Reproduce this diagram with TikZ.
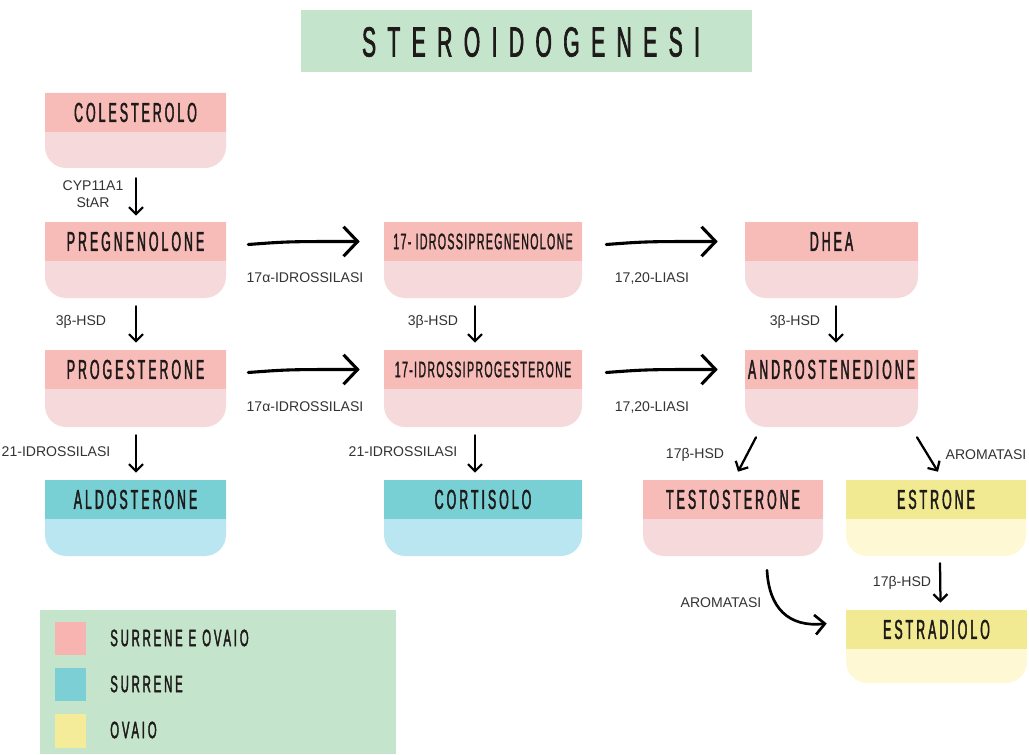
\documentclass[tikz,border=0pt]{standalone}
\usepackage{fontspec}
\setmainfont{Liberation Sans}
\newfontfamily\bebas[FakeStretch=0.45,LetterSpace=11,FakeBold=1.6]{Liberation Sans}
\newfontfamily\bebastight[FakeStretch=0.47,LetterSpace=6,FakeBold=1.3]{Liberation Sans}
\newfontfamily\legfont[FakeStretch=0.48,LetterSpace=12,FakeBold=1.6]{Liberation Sans}
\newfontfamily\titlefont[FakeStretch=0.5,LetterSpace=27,FakeBold=1.5]{Liberation Sans}
\usetikzlibrary{arrows.meta,calc}
\definecolor{pinkband}{HTML}{F8BCB8}
\definecolor{pinklight}{HTML}{F6DADB}
\definecolor{tealband}{HTML}{78CFD4}
\definecolor{bluelight}{HTML}{B9E6F1}
\definecolor{yelband}{HTML}{F2EA93}
\definecolor{yellight}{HTML}{FEF8D4}
\definecolor{titlegreen}{HTML}{C4E5CB}
\definecolor{labelgray}{HTML}{333333}
\definecolor{boxtext}{HTML}{1E1A1A}
\definecolor{legpink}{HTML}{F8B4B0}
\definecolor{legteal}{HTML}{7BCFD5}
\definecolor{legyel}{HTML}{F5EC9A}
% name, x1, y1, x2, y2, band, light, font, text
\newcommand\stage[9]{%
  \fill[#7] (#2,#3) [rounded corners=15pt] -- (#2,#5) -- (#4,#5) [sharp corners] -- (#4,#3) -- cycle;
  \fill[#6] (#2,#3) rectangle (#4,#3+39);
  \node[boxtxt, font=#8] (#1-t) at ({(#2+#4)/2},{#3+19.5}) {#9};
  \node[inner sep=0pt, minimum width={(#4-#2)*0.025cm}, minimum height={(#5-#3)*0.025cm}] (#1) at ({(#2+#4)/2},{(#3+#5)/2}) {};
}
\newcommand\bigtxt{\bebas\fontsize{19.5}{20}\selectfont}
\newcommand\smalltxt{\bebastight\fontsize{16}{17}\selectfont}
\begin{document}
\begin{tikzpicture}[x=0.025cm,y=-0.025cm,
  lbl/.style={font=\fontsize{10}{12}\selectfont, text=labelgray, inner sep=0pt},
  boxtxt/.style={text=boxtext, inner sep=0pt},
  legtxt/.style={font=\legfont\fontsize{16.8}{18}\selectfont, text=boxtext, inner sep=0pt, anchor=west},
  vlink/.style={-{Straight Barb[length=5pt,width=10pt]}, line width=1.6pt, line cap=round},
  hlink/.style={-{Straight Barb[length=10pt,width=21pt]}, line width=2.2pt, line cap=round},
  mlink/.style={-{Straight Barb[length=7pt,width=14pt]}, line width=1.9pt, line cap=round},
]
\useasboundingbox (0,0) rectangle (1029,754);

% title
\fill[titlegreen] (301,10) rectangle (752,72);
\node[inner sep=0pt, font=\titlefont\fontsize{30}{32}\selectfont, text=boxtext] (title) at (531,42) {STEROIDOGENESI};

% boxes
\stage{col}{45}{93}{226}{168}{pinkband}{pinklight}{\bigtxt}{COLESTEROLO}
\stage{preg}{45}{222}{226}{298}{pinkband}{pinklight}{\bigtxt}{PREGNENOLONE}
\stage{ohpreg}{384}{222}{582}{298}{pinkband}{pinklight}{\smalltxt}{17- IDROSSIPREGNENOLONE}
\stage{dhea}{745}{222}{918}{298}{pinkband}{pinklight}{\bigtxt}{DHEA}
\stage{prog}{45}{350}{226}{427}{pinkband}{pinklight}{\bigtxt}{PROGESTERONE}
\stage{ohprog}{384}{350}{582}{427}{pinkband}{pinklight}{\smalltxt}{17-IDROSSIPROGESTERONE}
\stage{andro}{745}{350}{918}{427}{pinkband}{pinklight}{\bigtxt}{ANDROSTENEDIONE}
\stage{aldo}{45}{480}{226}{556}{tealband}{bluelight}{\bigtxt}{ALDOSTERONE}
\stage{cort}{384}{480}{582}{556}{tealband}{bluelight}{\bigtxt}{CORTISOLO}
\stage{testo}{643}{480}{823}{556}{pinkband}{pinklight}{\bigtxt}{TESTOSTERONE}
\stage{estrone}{846}{480}{1026}{556}{yelband}{yellight}{\bigtxt}{ESTRONE}
\stage{estradiolo}{846}{610}{1027}{683}{yelband}{yellight}{\bigtxt}{ESTRADIOLO}

% vertical arrows
\draw[vlink] ($(col.south)+(0.5,10)$) -- ($(preg.north)+(0.5,-6)$);
\draw[vlink] ($(preg.south)+(0.5,8)$) -- ($(prog.north)+(0.5,-7)$);
\draw[vlink] ($(prog.south)+(0.5,8)$) -- ($(aldo.north)+(0.5,-7)$);
\draw[vlink] ($(ohpreg.south)+(-8,8)$) -- ($(ohprog.north)+(-8,-7)$);
\draw[vlink] ($(ohprog.south)+(-8,8)$) -- ($(cort.north)+(-8,-7)$);
\draw[vlink] ($(dhea.south)+(4.5,8)$) -- ($(andro.north)+(4.5,-7)$);

% horizontal arrows (slightly hand-drawn curve)
\draw[hlink] ($(preg.east |- preg-t)+(22,3)$) .. controls +(40,-3) .. ($(ohpreg.west |- ohpreg-t)+(-24,0)$);
\draw[hlink] ($(ohpreg.east |- ohpreg-t)+(24,3)$) .. controls +(40,-3) .. ($(dhea.west |- dhea-t)+(-27,0)$);
\draw[hlink] ($(prog.east |- prog-t)+(22,3)$) .. controls +(40,-3) .. ($(ohprog.west |- ohprog-t)+(-24,0)$);
\draw[hlink] ($(ohprog.east |- ohprog-t)+(24,3)$) .. controls +(40,-3) .. ($(andro.west |- andro-t)+(-27,0)$);

% diagonal and curved arrows
\draw[vlink] ($(andro.south)+(-75.5,10)$) -- ($(testo.north)+(5,-8)$);
\draw[vlink] ($(andro.south)+(85.5,10)$) -- ($(estrone.north)+(2,-8)$);
\draw[vlink] ($(estrone.south)+(4,7)$) -- ($(estradiolo.north)+(4,-7)$);
\draw[mlink] ($(testo.south)+(34,14)$) .. controls +(2,38) and +(-38,4) .. ($(estradiolo.west)+(-19,-23)$);

% enzyme labels
\node[lbl, align=center] (l1) at (93,194) {CYP11A1\\StAR};
\node[lbl] (l2) at (81,322) {3β-HSD};
\node[lbl] (l3) at (56,452) {21-IDROSSILASI};
\node[lbl] (l4) at (305,278) {17α-IDROSSILASI};
\node[lbl] (l5) at (652,278) {17,20-LIASI};
\node[lbl] (l6) at (305,407) {17α-IDROSSILASI};
\node[lbl] (l7) at (652,407) {17,20-LIASI};
\node[lbl] (l8) at (433,322) {3β-HSD};
\node[lbl] (l9) at (403,452) {21-IDROSSILASI};
\node[lbl] (l10) at (795,322) {3β-HSD};
\node[lbl] (l11) at (695,455) {17β-HSD};
\node[lbl] (l12) at (986,455) {AROMATASI};
\node[lbl] (l13) at (902,583) {17β-HSD};
\node[lbl] (l14) at (721,603) {AROMATASI};

% legend
\fill[titlegreen] (40,610) rectangle (396,754);
\fill[legpink] (55,622) rectangle (86,655);
\fill[legteal] (55,668) rectangle (86,701);
\fill[legyel] (55,714) rectangle (86,748);
\node[legtxt] (g1) at (110,638) {SURRENE E OVAIO};
\node[legtxt] (g2) at (110,684) {SURRENE};
\node[legtxt] (g3) at (110,730) {OVAIO};
\end{tikzpicture}
\end{document}
